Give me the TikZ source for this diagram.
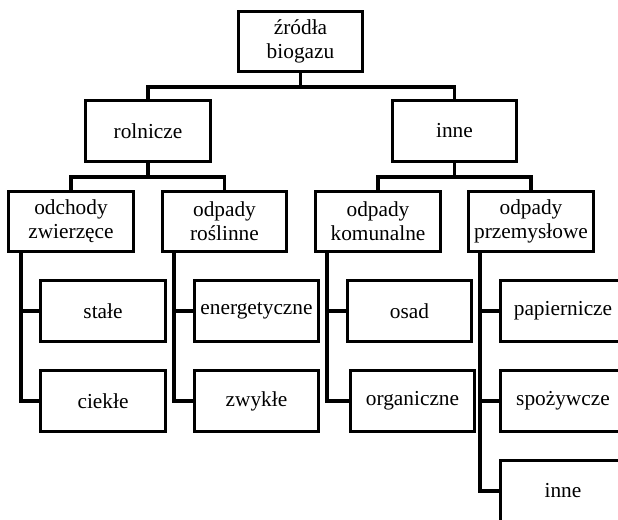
\documentclass[tikz,border=0pt]{standalone}
\usepackage{fontspec}
\setmainfont{Liberation Serif}
\newfontfamily\boxfont{Liberation Serif}
\begin{document}
\begin{tikzpicture}[x=0.75pt,y=-0.75pt,
  box/.style={draw=black,line width=2.4pt,fill=white,minimum width=93.3pt,
    minimum height=45.3pt,inner sep=1pt,align=center,
    font=\boxfont\fontsize{16}{18}\selectfont},
  link/.style={draw=black,line width=2.4pt}]
\useasboundingbox (0,0) rectangle (618,519);
\fill[white] (0,0) rectangle (618,519);
\clip (0,0) rectangle (618,519);

% root and first level
\node[box] (root) at (300.5,41.5) {źródła\\biogazu};
\node[box] (rol)  at (148,131)   {rolnicze};
\node[box] (inn)  at (454.5,131) {inne};

% second level
\node[box] (odch) at (71,221.5)    {odchody\\zwierzęce};
\node[box] (rosl) at (224.5,221.5) {odpady\\roślinne};
\node[box] (kom)  at (378,221.5)   {odpady\\komunalne};
\node[box] (prz)  at (531,221.5)   {odpady\\przemysłowe};

% leaves
\node[box] (stale)  at (103,311)   {stałe};
\node[box] (ciekle) at (103,401)   {ciekłe};
\node[box] (energ)  at (256.5,311) {energetyczne};
\node[box] (zwyk)   at (256.5,401) {zwykłe};
\node[box] (osad)   at (409.5,311) {osad};
\node[box] (organ)  at (412.5,401) {organiczne};
\node[box] (papier) at (563,311)   {papiernicze};
\node[box] (spoz)   at (563,401)   {spożywcze};
\node[box] (pinne)  at (563,491)   {inne};

% horizontal buses
\coordinate (bus1) at (0,87);
\coordinate (bus2) at (0,177);
\draw[link] (root.south) -- (root.south |- bus1) -| (rol.north);
\draw[link] (root.south |- bus1) -| (inn.north);
\draw[link] (rol.south) -- (rol.south |- bus2) -| (odch.north);
\draw[link] (rol.south |- bus2) -| (rosl.north);
\draw[link] (inn.south) -- (inn.south |- bus2) -| (kom.north);
\draw[link] (inn.south |- bus2) -| (prz.north);

% vertical feeders to the leaves
\coordinate (v1) at (21,0);
\coordinate (v2) at (174,0);
\coordinate (v3) at (327,0);
\coordinate (v4) at (480,0);
\draw[link] (v1 |- odch.south) |- (stale.west);
\draw[link] (v1 |- odch.south) |- (ciekle.west);
\draw[link] (v2 |- rosl.south) |- (energ.west);
\draw[link] (v2 |- rosl.south) |- (zwyk.west);
\draw[link] (v3 |- kom.south) |- (osad.west);
\draw[link] (v3 |- kom.south) |- (organ.west);
\draw[link] (v4 |- prz.south) |- (papier.west);
\draw[link] (v4 |- prz.south) |- (spoz.west);
\draw[link] (v4 |- prz.south) |- (pinne.west);
\end{tikzpicture}
\end{document}
